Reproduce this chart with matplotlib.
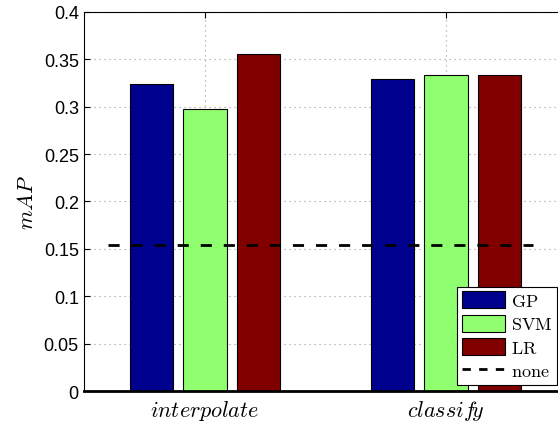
import numpy as np
import matplotlib
matplotlib.use("Agg")
import matplotlib.pyplot as plt
from matplotlib.lines import Line2D
from matplotlib.patches import Patch

#-----Data-----#
groups = [r"$interpolate$", r"$classif\!y$"]
methods = ["GP", "SVM", "LR"]
gp = [0.324, 0.329]
svm = [0.297, 0.333]
lr = [0.355, 0.333]
noneLevel = 0.154
colors = ["#00008F", "#8FFF70", "#800000"]

plt.rcParams["mathtext.fontset"] = "cm"
plt.rcParams["font.family"] = ["Liberation Sans", "DejaVu Sans"]

fig = plt.figure(figsize=(5.58, 4.27), dpi=100)
ax = fig.add_axes([0.1511, 0.0813, 0.864, 0.889])

x = np.arange(1, len(groups) + 1)
offset = 0.222
width = 0.18

for k, vals in enumerate([gp, svm, lr]):
    ax.bar(x + (k - 1) * offset, vals, width, color=colors[k],
           edgecolor="black", linewidth=0.8, zorder=2)

ax.plot([0.6, 2.36], [noneLevel, noneLevel], color="black", linestyle="--",
        linewidth=2, dashes=(4, 4.3), zorder=3)

ax.set_xlim(0.5, 2.5)
ax.set_ylim(0, 0.4)
ax.set_xticks(x)
ax.set_xticklabels(groups, fontsize=16)
ax.set_yticks(np.arange(0, 0.401, 0.05))
ax.set_yticklabels(["0", "0.05", "0.1", "0.15", "0.2", "0.25", "0.3", "0.35", "0.4"])
ax.tick_params(axis="y", labelsize=13, direction="in", right=True, length=4, pad=4)
ax.tick_params(axis="x", direction="in", top=True, length=4, pad=5)

ax.set_ylabel(r"$mAP$", fontsize=16, labelpad=4)

ax.grid(True, linestyle=(0, (1, 3.5)), color="#999999", linewidth=0.8)
ax.set_axisbelow(True)

for s in ax.spines.values():
    s.set_linewidth(0.8)
ax.spines["bottom"].set_linewidth(2)

handles = [Patch(facecolor=colors[k], edgecolor="black", linewidth=0.8) for k in range(3)]
handles.append(Line2D([0], [0], color="black", linestyle="--", linewidth=2, dashes=(3, 3)))
labels = [r"$\mathrm{%s}$" % m for m in methods] + [r"$\mathrm{none}$"]

leg = fig.legend(handles, labels, loc="lower right",
                 bbox_to_anchor=(556.7 / 558, (427 - 386) / 427),
                 bbox_transform=fig.transFigure, fontsize=13,
                 fancybox=False, framealpha=1, edgecolor="black",
                 handlelength=2.4, handleheight=1.05, handletextpad=0.3,
                 labelspacing=0.28, borderpad=0.25, borderaxespad=0)
leg.get_frame().set_linewidth(0.8)

fig.savefig("out.png", dpi=100)
